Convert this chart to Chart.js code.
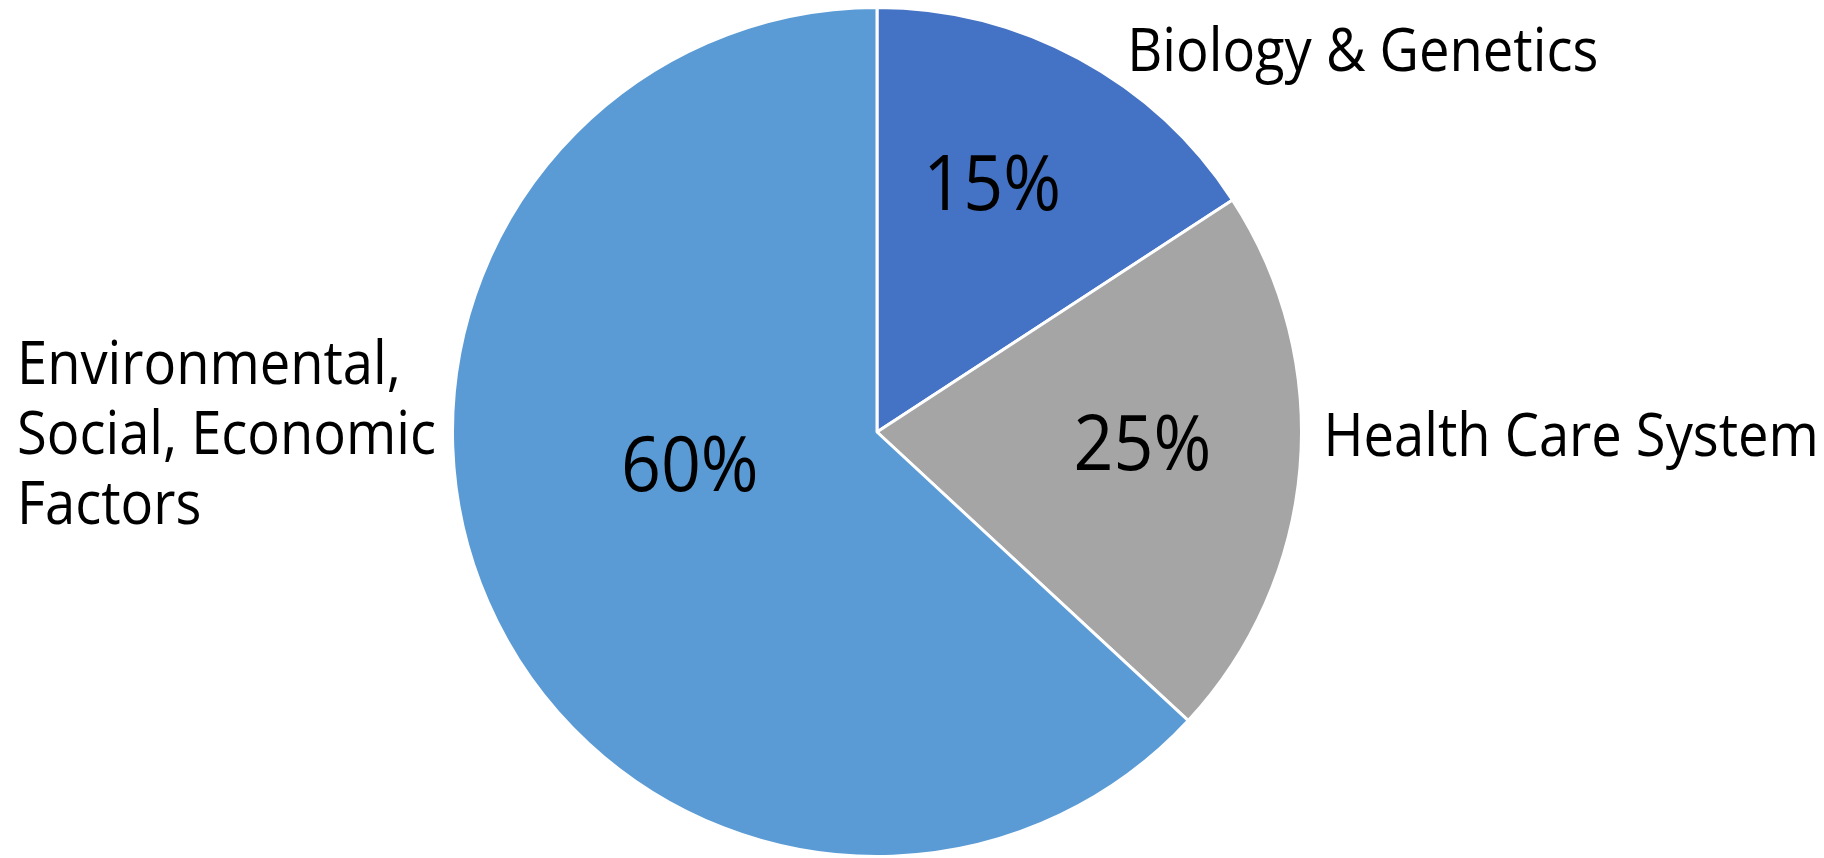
<!DOCTYPE html>
<html lang="en">
<head>
  <meta charset="UTF-8" />
  <title>Determinants of Health</title>
  <script src="https://cdn.jsdelivr.net/npm/chart.js"></script>
  <style>
    html, body { margin: 0; padding: 0; background: #fff; }
    canvas { display: block; }
  </style>
</head>
<body>
  <canvas id="myChart" width="1824" height="858"></canvas>
  <script>
    // data
    const categories = [
      'Biology & Genetics',
      'Health Care System',
      ['Environmental,', 'Social, Economic', 'Factors']
    ];
    // slice sizes as drawn (the picture's slices are not exactly 15/25/60)
    const sliceValues = [15.8, 21.1, 63.1];
    // percentages as printed on the slices
    const percentLabels = ['15%', '25%', '60%'];
    const sliceColors = ['#4472C4', '#A5A5A5', '#5B9BD5'];

    // label placement, px offsets from the pie centre (for radius 424)
    const nameSpots = [
      { dx: 250, dy: -361 },
      { dx: 446, dy: 24 },
      { dx: -859, dy: -48 }
    ];
    const pctSpots = [
      { dx: 115, dy: -222 },
      { dx: 265, dy: 38 },
      { dx: -187, dy: 59 }
    ];

    const FONT = '"Open Sans", "Noto Sans", sans-serif';

    // draws text squeezed a bit horizontally, closer to the narrow Segoe look
    const drawText = (ctx, text, x, y, size, align, squeeze) => {
      ctx.save();
      ctx.font = `${size}px ${FONT}`;
      ctx.textAlign = align;
      ctx.textBaseline = 'alphabetic';
      ctx.fillStyle = '#000';
      ctx.translate(x, y);
      ctx.scale(squeeze, 1);
      ctx.fillText(text, 0, 0);
      ctx.restore();
    };

    const pieLabels = {
      id: 'pieLabels',
      afterDatasetsDraw(chart) {
        const ctx = chart.ctx;
        const meta = chart.getDatasetMeta(0);
        const arc = meta.data[0];
        const k = arc.outerRadius / 424;
        const cx = arc.x;
        const cy = arc.y;

        meta.data.forEach((el, i) => {
          // percent inside the slice
          const p = pctSpots[i];
          drawText(ctx, percentLabels[i], cx + p.dx * k, cy + p.dy * k, 76, 'center', 0.92);

          // category name outside
          const n = nameSpots[i];
          const lines = [].concat(chart.data.labels[i]);
          lines.forEach((line, j) => {
            drawText(ctx, line, cx + n.dx * k, cy + (n.dy + j * 70) * k, 60, 'left', 0.905);
          });
        });
      }
    };

    const ctx = document.getElementById('myChart').getContext('2d');

    const chart = new Chart(ctx, {
      type: 'pie',
      data: {
        labels: categories,
        datasets: [{
          data: sliceValues,
          backgroundColor: sliceColors,
          borderColor: '#ffffff',
          borderWidth: 3
        }]
      },
      options: {
        responsive: false,
        animation: false,
        layout: { padding: { top: 6, bottom: -3, left: 0, right: 70 } },
        plugins: {
          legend: { display: false },
          tooltip: { enabled: false }
        }
      },
      plugins: [pieLabels]
    });
  </script>
</body>
</html>
